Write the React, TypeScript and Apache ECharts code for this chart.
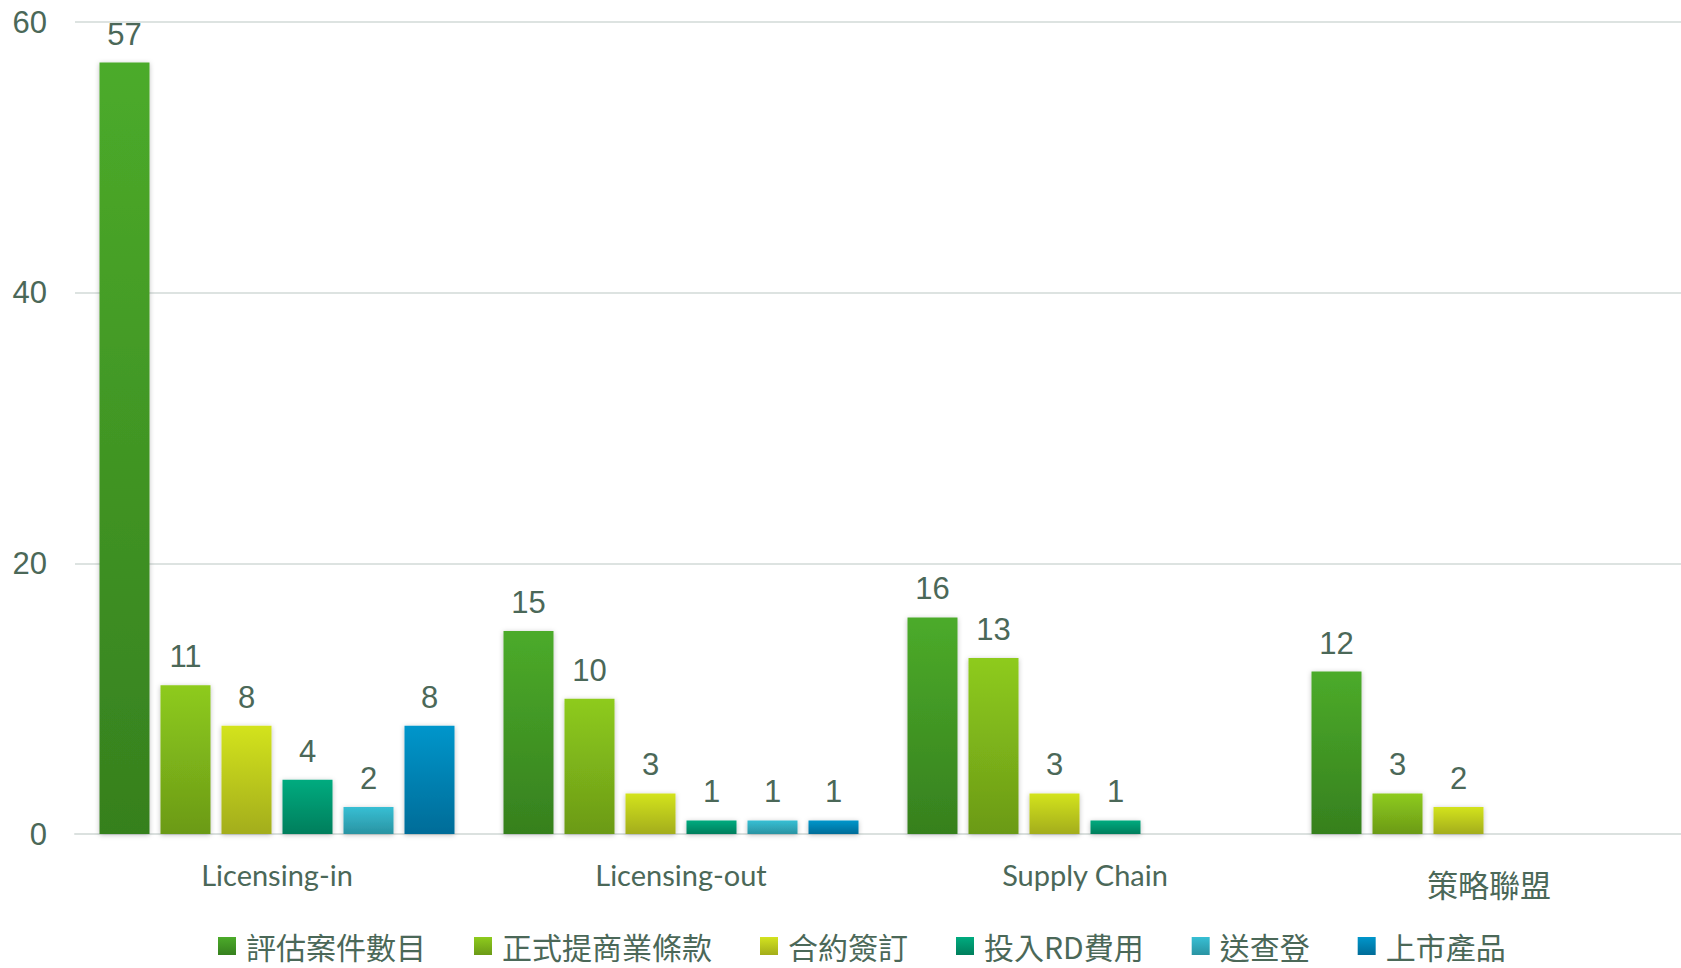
import React, { useEffect, useRef } from "react";
import * as echarts from "echarts";

const categories = ["Licensing-in", "Licensing-out", "Supply Chain", "策略聯盟"];
const seriesNames = ["評估案件數目", "正式提商業條款", "合約簽訂", "投入RD費用", "送查登", "上市產品"];
const evalCases = [57, 15, 16, 12];
const formalTerms = [11, 10, 13, 3];
const contracts = [8, 3, 3, 2];
const rdInvest = [4, 1, 1, null];
const submitted = [2, 1, null, null];
const launched = [8, 1, null, null];
const yTicks = [0, 20, 40, 60];

const seriesData = [evalCases, formalTerms, contracts, rdInvest, submitted, launched];
const gradientStops: [string, string][] = [
  ["#4cab2a", "#36801e"],
  ["#8ecb1d", "#6b9a17"],
  ["#d3e31f", "#a3ad1a"],
  ["#00ab7f", "#007e5c"],
  ["#37bfd4", "#2a93a2"],
  ["#0096cb", "#006c98"],
];

const textColor = "#4b6858";

export default function App() {
  const ref = useRef<HTMLDivElement>(null);
  useEffect(() => {
    if (!ref.current) return;
    const chart = echarts.init(ref.current, undefined, { renderer: "svg" });
    const series = seriesNames.map((name, i) => ({
      name,
      type: "bar",
      barWidth: 50,
      barGap: "22%",
      data: seriesData[i].map((v) => (v === null ? "-" : v)),
      itemStyle: {
        color: new echarts.graphic.LinearGradient(0, 0, 0, 1, [
          { offset: 0, color: gradientStops[i][0] },
          { offset: 1, color: gradientStops[i][1] },
        ]),
        shadowBlur: 5,
        shadowColor: "rgba(0,0,0,0.25)",
        shadowOffsetX: 0,
        shadowOffsetY: 1,
      },
      label: {
        show: true,
        position: "top",
        distance: 13,
        color: textColor,
        fontSize: 31,
        fontFamily: "'Liberation Sans', Arial, sans-serif",
      },
    }));
    chart.setOption({
      animation: false,
      backgroundColor: "#ffffff",
      grid: { left: 75, top: 22, width: 1616, height: 812, containLabel: false },
      legend: {
        data: seriesNames,
        left: 213,
        top: 926,
        icon: "rect",
        itemWidth: 18,
        itemHeight: 18,
        itemGap: 48,
        textStyle: {
          color: textColor,
          fontSize: 30,
          fontFamily: "'Noto Sans CJK TC', Lato, sans-serif",
          padding: [0, 0, 0, 5],
        },
      },
      xAxis: {
        type: "category",
        data: categories,
        axisLine: { show: true, lineStyle: { color: "#dbe1df", width: 2 } },
        axisTick: { show: false },
        axisLabel: {
          color: textColor,
          fontSize: 29,
          margin: 26,
          fontFamily: "Lato, 'Noto Sans CJK TC', sans-serif",
          formatter: (v: string) => (/[\u4e00-\u9fff]/.test(v) ? `{cjk|${v}}` : v),
          rich: {
            cjk: {
              color: textColor,
              fontSize: 31,
              fontFamily: "'Noto Sans CJK TC', sans-serif",
              padding: [8, 0, 0, 0],
            },
          },
        },
      },
      yAxis: {
        type: "value",
        min: yTicks[0],
        max: yTicks[yTicks.length - 1],
        interval: 20,
        axisLine: { show: false },
        axisTick: { show: false },
        splitLine: { lineStyle: { color: "#dde3e1", width: 2 } },
        axisLabel: {
          color: textColor,
          fontSize: 31,
          margin: 28,
          fontFamily: "'Liberation Sans', Arial, sans-serif",
        },
      },
      series,
    });
    return () => chart.dispose();
  }, []);
  return (
    <div
      ref={ref}
      style={{ position: "fixed", left: 0, top: 0, width: 1691, height: 968, background: "#fff" }}
    />
  );
}
